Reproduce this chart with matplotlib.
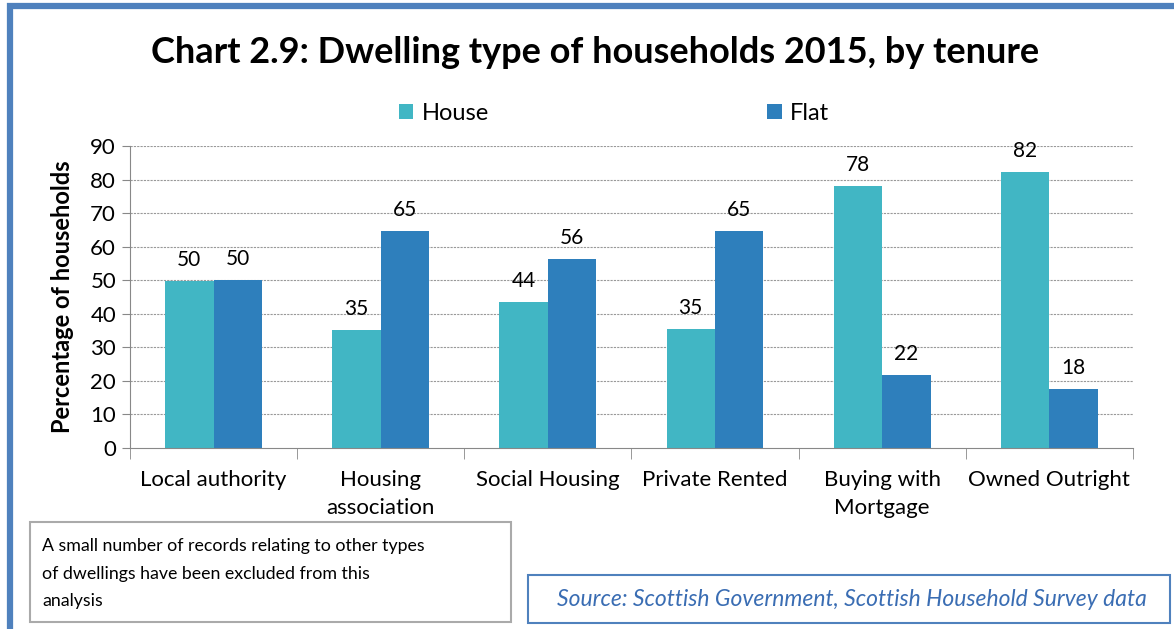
import matplotlib.pyplot as plt
from matplotlib.patches import Rectangle
import numpy as np

# data
categories = ["Local authority", "Housing\nassociation", "Social Housing",
              "Private Rented", "Buying with\nMortgage", "Owned Outright"]
house = [49.9, 35.3, 43.6, 35.4, 78.2, 82.3]
flat = [50.1, 64.7, 56.4, 64.6, 21.8, 17.7]
yticks = [0, 10, 20, 30, 40, 50, 60, 70, 80, 90]

house_col = "#41b6c4"
flat_col = "#2e7fbc"
frame_col = "#4f81bd"

plt.rcParams['font.family'] = ['Lato', 'DejaVu Sans']

fig = plt.figure(figsize=(11.74, 6.29), dpi=100)

# outer blue frame (left + top edges visible)
fig.patches.append(Rectangle((0.0085, -0.05), 1.2, 1.04, transform=fig.transFigure,
                             fill=False, edgecolor=frame_col, linewidth=4.5))

ax = fig.add_axes([0.1107, 0.2878, 0.8543, 0.4801])
x = np.arange(len(categories))
w = 0.29
b1 = ax.bar(x - w / 2, house, w, color=house_col, label="House")
b2 = ax.bar(x + w / 2, flat, w, color=flat_col, label="Flat")

for bars in (b1, b2):
    for r in bars:
        ax.text(r.get_x() + r.get_width() / 2, r.get_height() + 3.2,
                "%.0f" % r.get_height(), ha="center", va="bottom", fontsize=15)

ax.set_xlim(-0.5, len(categories) - 0.5)
ax.set_ylim(0, 90)
ax.set_yticks(yticks)
ax.tick_params(axis="y", labelsize=16, length=6, color="#888888", pad=4)
for yv in yticks[1:]:
    ax.axhline(yv, color="#999999", linestyle=(0, (2, 1)), linewidth=0.8, zorder=0)

ax.set_xticks(x)
ax.set_xticklabels(categories, fontsize=16, linespacing=1.5)
ax.tick_params(axis="x", length=0, pad=16)
ax.set_xticks(np.arange(-0.5, len(categories)), minor=True)
ax.tick_params(axis="x", which="minor", length=8, color="#888888")

for s in ("top", "right"):
    ax.spines[s].set_visible(False)
ax.spines["left"].set_color("#888888")
ax.spines["bottom"].set_color("#888888")

ax.set_ylabel("Percentage of households", fontsize=17, fontweight="bold", labelpad=12)

fig.text(0.507, 0.917, "Chart 2.9: Dwelling type of households 2015, by tenure",
         ha="center", va="center", fontsize=26, fontweight="bold")

fig.legend(handles=[b1, b2], labels=["House", "Flat"], loc="center",
           bbox_to_anchor=(0.523, 0.82), ncol=2, frameon=False, fontsize=17,
           handlelength=0.6, handleheight=0.6, handletextpad=0.35, columnspacing=11.8)

# note box
fig.patches.append(Rectangle((30 / 1174, 1 - 622 / 629), 481 / 1174, 100 / 629,
                             transform=fig.transFigure, fill=False,
                             edgecolor="#aaaaaa", linewidth=1.5))
fig.text(42 / 1174, 1 - 538 / 629,
         "A small number of records relating to other types\nof dwellings have been excluded from this\nanalysis",
         ha="left", va="top", fontsize=12.8, linespacing=1.9)

# source box
fig.patches.append(Rectangle((528 / 1174, 1 - 623 / 629), 642 / 1174, 48 / 629,
                             transform=fig.transFigure, fill=False,
                             edgecolor=frame_col, linewidth=1.5))
fig.text(852 / 1174, 1 - 600 / 629,
         "Source: Scottish Government, Scottish Household Survey data",
         ha="center", va="center", fontsize=16.5, style="italic", color="#3a6db3")

fig.savefig("out.png", dpi=100)
